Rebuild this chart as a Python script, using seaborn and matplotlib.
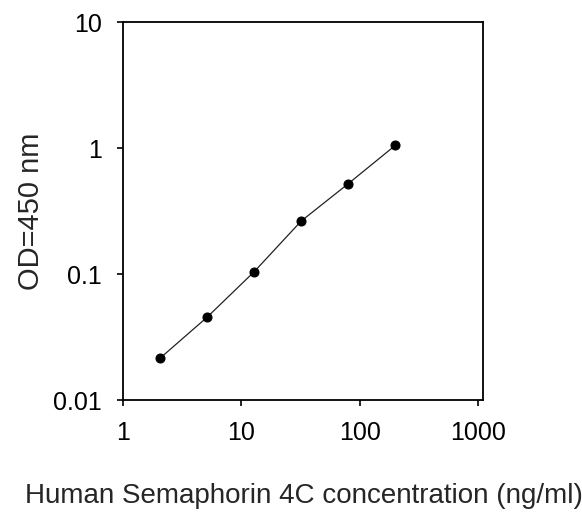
import matplotlib
matplotlib.use("Agg")
import matplotlib.pyplot as plt
import seaborn as sns
import pandas as pd
from matplotlib.ticker import FixedLocator, FixedFormatter, NullLocator

concentration = [2.048, 5.12, 12.8, 32, 80, 200]
od450 = [0.0214, 0.0453, 0.104, 0.263, 0.521, 1.05]
x_ticks = [1, 10, 100, 1000]
x_tick_labels = ["1", "10", "100", "1000"]
y_ticks = [0.01, 0.1, 1, 10]
y_tick_labels = ["0.01", "0.1", "1", "10"]

sns.set_style("ticks")
plt.rcParams['font.family'] = ['Liberation Sans', 'DejaVu Sans']

df = pd.DataFrame({"conc": concentration, "od": od450})

fig = plt.figure(figsize=(5.82, 5.12), dpi=100)
ax = fig.add_axes([123/582, 1-400/512, (483-123)/582, (400-22)/512])

sns.lineplot(data=df, x="conc", y="od", ax=ax, color="#222222", linewidth=0.9,
             marker="o", markersize=6.5, markerfacecolor="black", markeredgecolor="black")

ax.set_xscale("log")
ax.set_yscale("log")
ax.set_xlim(1, 1100)
ax.set_ylim(0.01, 10)

ax.xaxis.set_major_locator(FixedLocator(x_ticks))
ax.xaxis.set_major_formatter(FixedFormatter(x_tick_labels))
ax.xaxis.set_minor_locator(NullLocator())
ax.yaxis.set_major_locator(FixedLocator(y_ticks))
ax.yaxis.set_major_formatter(FixedFormatter(y_tick_labels))
ax.yaxis.set_minor_locator(NullLocator())

for s in ax.spines.values():
    s.set_visible(True)
    s.set_linewidth(1.3)
    s.set_color("black")

ax.tick_params(axis="both", direction="out", length=4, width=1.2, labelsize=18,
               colors="black", top=False, right=False)
ax.tick_params(axis="x", pad=11)
ax.tick_params(axis="y", pad=11)

ax.set_xlabel("Human Semaphorin 4C concentration (ng/ml)", fontsize=20)
ax.set_ylabel("OD=450 nm", fontsize=21)
ax.xaxis.set_label_coords((304-123)/360, (400-503)/378)
ax.xaxis.label.set_va("baseline")
ax.yaxis.set_label_coords((31-123)/360, 0.5)
ax.yaxis.label.set_va("center")

fig.savefig("out.png", dpi=100)
